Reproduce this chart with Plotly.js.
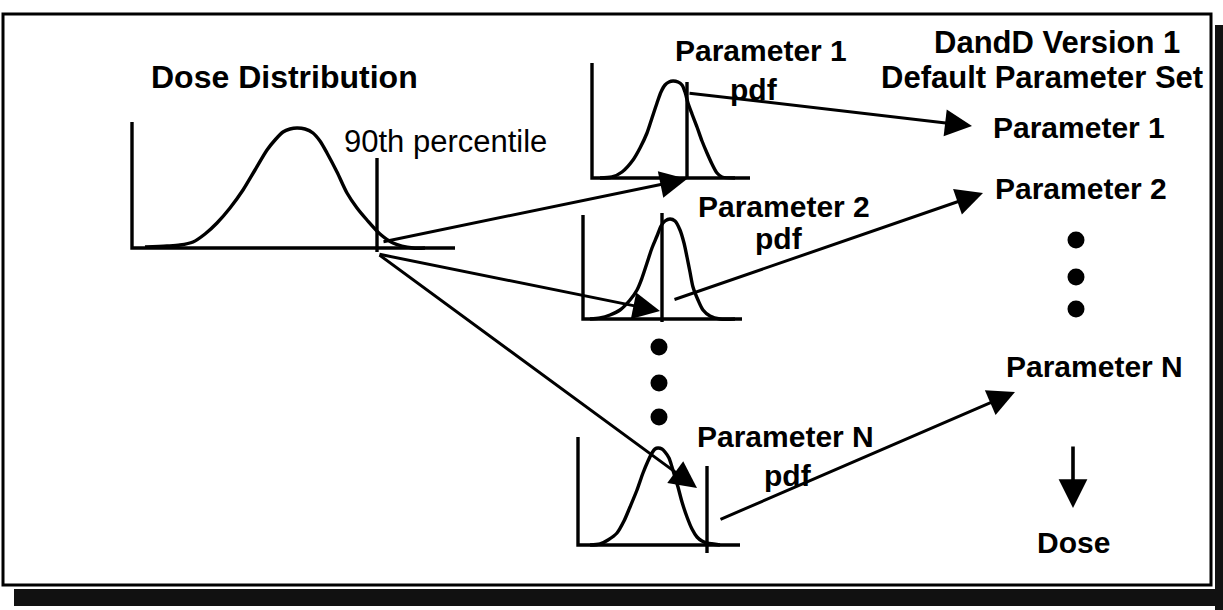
<!DOCTYPE html>
<html><head><meta charset="utf-8">
<script src="https://cdn.plot.ly/plotly-3.0.1.min.js"></script>
<style>html,body{margin:0;padding:0;background:#fff;overflow:hidden}#chart{width:1223px;height:610px}</style>
</head><body><div id="chart"></div>
<script>
// ---- Curves (diagram units = pixels of the 1223x610 drawing) ----
const doseCurveX = [145,167,180,193,205,217,230,243,255,267,275,283,290,297,305,313,320,327,337,347,357,367,380,393,413,425];
const doseCurveY = [247,246,245,242,234,223,208,190,170,150,140,132,129,128,129,133,141,153,172,193,208,220,234,243,248,248];

const p1CurveX = [600,612,622,633,640,647,652,657,661,665,669,673,678,682,685,688,692,697,702,707,712,717,722,735];
const p1CurveY = [178,177,172,160,148,133,118,103,92,85,82,81,82,85,92,103,114,127,141,153,164,173,177,178];

const p2CurveX = [590,600,610,620,630,637,642,647,652,657,661,665,670,675,680,684,687,690,693,698,703,710,720,735];
const p2CurveY = [319,318,315,310,300,290,278,263,248,236,226,221,219,221,230,243,257,272,287,300,310,316,319,319];

const pNCurveX = [590,600,608,617,624,630,637,643,648,652,655,658,662,665,669,672,675,678,682,687,692,697,702,707,720];
const pNCurveY = [545,544,540,533,521,507,490,473,461,453,449,448,449,452,458,467,477,487,502,517,529,537,541,543,545];

// ---- Small plot axes (L shapes): corner points ----
const axesX = [[132,132,455],[592,592,750],[583,583,742],[578,578,740]];
const axesY = [[122,248,248],[63,178,178],[215,319,319],[437,545,545]];

// ---- Percentile markers (vertical lines) ----
const markX    = [377,687,662,707];
const markTopY = [158,82,213,466];
const markBotY = [252,178,322,553];

// ---- Ellipsis dots ----
const midDotsX = [659,659,659];
const midDotsY = [347,383,417];
const rightDotsX = [1076,1076,1076];
const rightDotsY = [240,277,309];

// ---- Arrows (tail -> head) ----
const arrowFromX = [382,378,378,688,673,719];
const arrowFromY = [242,254,254,93,300,520];
const arrowToX   = [687,660,697,972,983,1015];
const arrowToY   = [179,311,488,126,193,392];
const doseArrowX = [1073,1073];
const doseArrowY = [445,508];

// ---- Text labels ----
const labelTexts = ['Dose Distribution','90th percentile','Parameter 1','pdf','Parameter 2','pdf','Parameter N','pdf',
                    'DandD Version 1','Default Parameter Set','Parameter 1','Parameter 2','Parameter N','Dose'];
const labelX = [284,343,761,754,784,779,785,788,1057,1042,1079,1081,1094,1073];
const labelY = [77,141,50,89,206,238,436,475,42,77,127,188,366,542];
const labelBold = [true,false,true,true,true,true,true,true,true,true,true,true,true,true];
const labelSize = [32,31,30,30,30,30,30,30,31,31,30,30,30,30];
const labelAnchor = ['center','left','center','center','center','center','center','center','center','center','center','center','center','center'];

const FONT = 'Liberation Sans, Arial, Helvetica, sans-serif';
const traces = [];
const lineStyle = {color:'#000', width:3.4};

[[doseCurveX,doseCurveY],[p1CurveX,p1CurveY],[p2CurveX,p2CurveY],[pNCurveX,pNCurveY]].forEach(([x,y])=>{
  traces.push({type:'scatter',mode:'lines',x:x,y:y,line:Object.assign({shape:'spline',smoothing:0.8},lineStyle),hoverinfo:'skip'});
});
axesX.forEach((x,i)=>traces.push({type:'scatter',mode:'lines',x:x,y:axesY[i],line:lineStyle,hoverinfo:'skip'}));
markX.forEach((x,i)=>traces.push({type:'scatter',mode:'lines',x:[x,x],y:[markTopY[i],markBotY[i]],line:lineStyle,hoverinfo:'skip'}));
traces.push({type:'scatter',mode:'markers',x:midDotsX.concat(rightDotsX),y:midDotsY.concat(rightDotsY),
  marker:{color:'#000',size:17},hoverinfo:'skip'});

const annotations = [];
arrowToX.forEach((x,i)=>annotations.push({x:x,y:arrowToY[i],ax:arrowFromX[i],ay:arrowFromY[i],
  xref:'x',yref:'y',axref:'x',ayref:'y',text:'',showarrow:true,arrowhead:2,arrowsize:1.8,arrowwidth:3,
  arrowcolor:'#000',standoff:0,startstandoff:0}));
annotations.push({x:doseArrowX[1],y:doseArrowY[1],ax:doseArrowX[0],ay:doseArrowY[0],
  xref:'x',yref:'y',axref:'x',ayref:'y',text:'',showarrow:true,arrowhead:2,arrowsize:1.6,arrowwidth:3.6,
  arrowcolor:'#000',standoff:0});
labelTexts.forEach((t,i)=>annotations.push({x:labelX[i],y:labelY[i],xref:'x',yref:'y',
  text: labelBold[i] ? '<b>'+t+'</b>' : t, showarrow:false, xanchor:labelAnchor[i], yanchor:'middle',
  borderpad:0, font:{family:FONT,size:labelSize[i],color:'#000'}}));

const shapes = [
  // shadow (right and bottom)
  {type:'rect',xref:'x',yref:'y',x0:1215,x1:1223,y0:25,y1:610,fillcolor:'#111',line:{width:0},layer:'below'},
  {type:'rect',xref:'x',yref:'y',x0:14,x1:1223,y0:589,y1:606,fillcolor:'#111',line:{width:0},layer:'below'},
  // frame
  {type:'rect',xref:'x',yref:'y',x0:3,x1:1211,y0:14,y1:585,line:{color:'#000',width:3},fillcolor:'rgba(0,0,0,0)',layer:'below'}
];

const layout = {
  width:1223,height:610,margin:{l:0,r:0,t:0,b:0},
  paper_bgcolor:'#fff',plot_bgcolor:'#fff',showlegend:false,
  xaxis:{range:[0,1223],visible:false,fixedrange:true},
  yaxis:{range:[610,0],visible:false,fixedrange:true},
  annotations:annotations,shapes:shapes
};
Plotly.newPlot('chart',traces,layout,{displayModeBar:false,staticPlot:true});
</script></body></html>
